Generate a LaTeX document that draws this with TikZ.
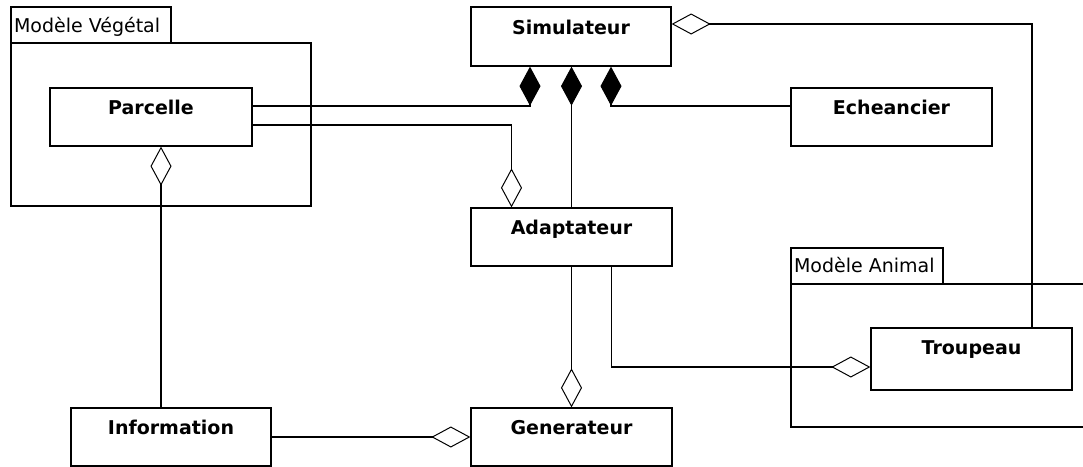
\documentclass[tikz,border=0pt]{standalone}
\usepackage{fontspec}
\setmainfont{DejaVu Sans}
\usetikzlibrary{arrows.meta}
\begin{document}
\begin{tikzpicture}[x=1pt,y=-1pt,
  line width=1.3pt,
  cls/.style={draw, rectangle, fill=white, inner sep=0pt, minimum width=201pt, minimum height=58pt},
  pkg/.style={draw, rectangle, inner sep=0pt},
  clsname/.style={anchor=base, inner sep=0pt, font=\fontsize{19}{22}\selectfont\bfseries},
  pkgname/.style={anchor=base west, inner sep=0pt, font=\fontsize{19}{22}\selectfont},
  comp/.style={-{Diamond[length=39pt,width=21pt,fill=black,line width=1pt]}},
  agg/.style={-{Diamond[open,length=39pt,width=21pt,line width=1pt]}}
]
\useasboundingbox (0,0) rectangle (1083,466);

% packages
\node[pkg, minimum width=160pt, minimum height=36pt] (vegtab) at (91,25) {};
\node[pkg, minimum width=300pt, minimum height=163pt] (vegbody) at (161,124.5) {};
\node[pkgname] (vegname) at ([xshift=3pt,yshift=-26pt]vegtab.north west) {Modèle Végétal};

\node[pkg, minimum width=152pt, minimum height=36pt] (anitab) at (867,266) {};
\node[pkg, minimum width=304pt, minimum height=143pt] (anibody) at (943,355.5) {};
\node[pkgname] (aniname) at ([xshift=3pt,yshift=-25pt]anitab.north west) {Modèle Animal};

% classes
\node[cls, minimum width=202pt] (parcelle) at (151,117) {};
\node[cls, minimum width=200pt, minimum height=59pt] (simulateur) at (571,36.5) {};
\node[cls] (echeancier) at (891.5,117) {};
\node[cls] (adaptateur) at (571.5,237) {};
\node[cls, minimum height=62pt] (troupeau) at (971.5,359) {};
\node[cls, minimum width=200pt] (information) at (171,437) {};
\node[cls] (generateur) at (571.5,437) {};

\node[clsname] (parcelle-n) at ([yshift=-27pt]parcelle.north) {Parcelle};
\node[clsname] (simulateur-n) at ([yshift=-28pt]simulateur.north) {Simulateur};
\node[clsname] (echeancier-n) at ([yshift=-27pt]echeancier.north) {Echeancier};
\node[clsname] (adaptateur-n) at ([yshift=-27pt]adaptateur.north) {Adaptateur};
\node[clsname] (troupeau-n) at ([yshift=-27pt]troupeau.north) {Troupeau};
\node[clsname] (information-n) at ([yshift=-27pt]information.north) {Information};
\node[clsname] (generateur-n) at ([yshift=-27pt]generateur.north) {Generateur};

% compositions into the simulator
\draw[comp] ([yshift=11pt]parcelle.east) -| ([xshift=-41pt]simulateur.south);
\draw[comp] (adaptateur.north) -- (adaptateur.north |- simulateur.south);
\draw[comp] ([yshift=11pt]echeancier.west) -| ([xshift=40pt]simulateur.south);

% aggregations
\draw[agg] ([yshift=-8pt]parcelle.east) -| ([xshift=-60pt]adaptateur.north);
\draw[agg] ([xshift=60.5pt]troupeau.north) |- ([yshift=12.5pt]simulateur.east);
\draw[agg] (adaptateur.south) -- (generateur.north);
\draw[agg] ([xshift=40pt]adaptateur.south) |- ([yshift=-8pt]troupeau.west);
\draw[agg] ([xshift=-10pt]information.north) -- ([xshift=-10pt]information.north |- parcelle.south);
\draw[agg] (information.east) -- (generateur.west);
\end{tikzpicture}
\end{document}
